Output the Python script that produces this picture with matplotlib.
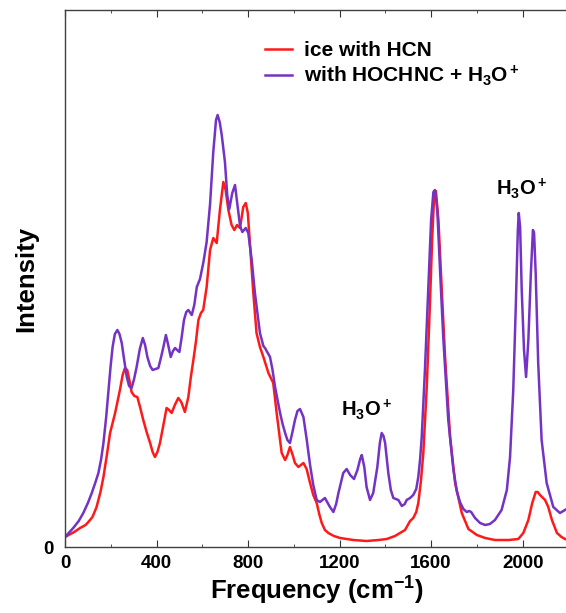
import matplotlib
matplotlib.use("Agg")
import matplotlib.pyplot as plt
from matplotlib.ticker import MultipleLocator

# fonts: Arial-like bold everywhere, mathtext too
plt.rcParams['font.family'] = ['Liberation Sans', 'DejaVu Sans']
plt.rcParams['font.weight'] = 'bold'
plt.rcParams['axes.labelweight'] = 'bold'
plt.rcParams['mathtext.fontset'] = 'custom'
plt.rcParams['mathtext.rm'] = 'Liberation Sans:bold'
plt.rcParams['mathtext.it'] = 'Liberation Sans:bold'
plt.rcParams['mathtext.bf'] = 'Liberation Sans:bold'
plt.rcParams['mathtext.default'] = 'rm'

# ice with HCN (red), arbitrary intensity units
red_freq = [0, 40, 66, 90, 102, 120, 138, 155, 168, 183,
            197, 219, 240, 252, 262, 272, 282, 291, 303, 316,
            328, 342, 358, 372, 383, 393, 404, 415, 430, 444,
            455, 466, 480, 495, 508, 524, 539, 550, 561, 572,
            583, 594, 604, 619, 634, 648, 663, 677, 692, 702,
            714, 728, 740, 752, 765, 779, 790, 799, 808, 823,
            837, 852, 867, 889, 910, 925, 947, 962, 972, 983,
            995, 1005, 1020, 1042, 1056, 1071, 1085, 1100, 1111, 1122,
            1136, 1151, 1175, 1202, 1260, 1318, 1370, 1406, 1442, 1464,
            1486, 1508, 1522, 1535, 1544, 1555, 1566, 1581, 1595, 1605,
            1614, 1621, 1632, 1646, 1661, 1683, 1705, 1734, 1763, 1800,
            1836, 1879, 1940, 1981, 2003, 2025, 2042, 2057, 2066, 2076,
            2098, 2112, 2128, 2150, 2170, 2185, 2200]
red_int = [10, 15, 19, 22, 25, 30, 40, 55, 70, 92,
           114, 134, 157, 172, 179, 177, 166, 155, 151, 150,
           140, 127, 114, 104, 95, 90, 95, 104, 122, 139,
           137, 134, 142, 149, 145, 135, 150, 170, 187, 205,
           227, 234, 237, 260, 297, 309, 304, 337, 365, 357,
           337, 322, 317, 322, 319, 340, 344, 334, 304, 254,
           214, 200, 190, 174, 164, 134, 94, 87, 92, 100,
           92, 84, 80, 84, 78, 64, 52, 44, 33, 24,
           17, 14, 11, 9, 7, 6, 7, 8, 11, 14,
           17, 26, 29, 35, 44, 65, 94, 160, 244, 310,
           354, 356, 327, 260, 190, 110, 64, 34, 18, 12,
           9, 7, 7, 8, 14, 27, 44, 55, 55, 52,
           47, 40, 27, 14, 10, 8, 7]

# with HOCHNC + H3O+ (purple)
pur_freq = [0, 36, 60, 80, 100, 117, 132, 146, 158, 168,
            180, 189, 199, 208, 218, 229, 238, 248, 258, 270,
            280, 291, 302, 313, 327, 340, 350, 360, 372, 383,
            395, 408, 420, 430, 441, 451, 462, 472, 481, 490,
            500, 510, 520, 530, 539, 548, 554, 565, 576, 590,
            605, 619, 634, 648, 660, 667, 676, 685, 699, 709,
            718, 731, 743, 755, 765, 775, 790, 801, 816, 830,
            852, 867, 874, 896, 907, 918, 930, 940, 951, 962,
            972, 983, 994, 1005, 1016, 1027, 1042, 1056, 1071, 1085,
            1100, 1114, 1125, 1136, 1148, 1158, 1173, 1185, 1195, 1216,
            1231, 1246, 1263, 1278, 1290, 1297, 1308, 1318, 1333, 1347,
            1365, 1376, 1384, 1392, 1399, 1413, 1424, 1435, 1457, 1472,
            1485, 1493, 1508, 1522, 1535, 1544, 1552, 1559, 1573, 1588,
            1600, 1610, 1617, 1627, 1639, 1653, 1675, 1697, 1712, 1726,
            1741, 1756, 1766, 1775, 1792, 1814, 1836, 1857, 1879, 1908,
            1931, 1945, 1959, 1970, 1979, 1983, 1989, 1996, 2006, 2015,
            2025, 2036, 2045, 2050, 2057, 2068, 2083, 2105, 2134, 2163,
            2185, 2200]
pur_int = [10, 19, 26, 34, 44, 54, 64, 74, 88, 104,
           130, 154, 180, 200, 213, 217, 213, 204, 188, 170,
           161, 159, 168, 180, 198, 209, 202, 190, 181, 177,
           178, 179, 190, 200, 212, 202, 190, 196, 199, 197,
           195, 210, 227, 235, 237, 234, 232, 242, 260, 268,
           285, 305, 343, 395, 427, 432, 425, 412, 385, 352,
           338, 354, 362, 340, 321, 315, 319, 314, 287, 254,
           214, 201, 199, 190, 177, 160, 146, 134, 123, 114,
           107, 104, 115, 127, 136, 138, 130, 108, 82, 62,
           47, 45, 47, 49, 44, 40, 35, 43, 54, 74,
           78, 72, 68, 77, 88, 92, 80, 60, 47, 54,
           80, 104, 114, 111, 104, 74, 57, 49, 47, 41,
           43, 47, 49, 52, 58, 70, 88, 110, 177, 260,
           327, 355, 357, 337, 277, 210, 127, 78, 56, 45,
           38, 35, 36, 35, 29, 24, 22, 23, 27, 37,
           57, 90, 157, 240, 317, 334, 320, 257, 197, 170,
           207, 274, 317, 314, 274, 184, 107, 64, 40, 34,
           37, 39]

labels = ['ice with HCN', 'with HOCHNC + H$_3$O$^+$']
peak_label = 'H$_3$O$^+$'
peak_pos = [(1320, 137), (1997, 358)]
red_color = '#ff1a1a'
pur_color = '#7433c4'

fig = plt.figure(figsize=(5.66, 6.13), dpi=100)
ax = fig.add_axes([65 / 566, 1 - 547 / 613, 503.4 / 566, 537 / 613])

ax.plot(red_freq, red_int, color=red_color, lw=1.8, label=labels[0])
ax.plot(pur_freq, pur_int, color=pur_color, lw=1.8, label=labels[1])

ax.set_xlim(0, 2200)
ax.set_ylim(0, 537)

ax.xaxis.set_major_locator(MultipleLocator(400))
ax.xaxis.set_minor_locator(MultipleLocator(200))
ax.set_yticks([0])
ax.tick_params(axis='x', which='both', direction='in', top=True, labelsize=13.5,
               pad=6, color='#333333')
ax.tick_params(axis='x', which='major', length=5)
ax.tick_params(axis='x', which='minor', length=2.5)
ax.tick_params(axis='y', length=0, labelsize=13.5, pad=8)

for s in ax.spines.values():
    s.set_color('#404040')
    s.set_linewidth(1.0)

ax.set_xlabel('Frequency (cm$^{-1}$)', fontsize=18.5, labelpad=2)
ax.set_ylabel('Intensity', fontsize=18.5, labelpad=4)

for x, y in peak_pos:
    ax.text(x, y, peak_label, fontsize=14.5, ha='center', va='center')

ax.legend(loc='upper left', bbox_to_anchor=(265 / 566, 1 - 41 / 613),
          bbox_transform=fig.transFigure, frameon=False, fontsize=15,
          handlelength=1.3, handletextpad=0.55, labelspacing=0.15,
          borderpad=0, borderaxespad=0)

fig.savefig('out.png', dpi=100)
